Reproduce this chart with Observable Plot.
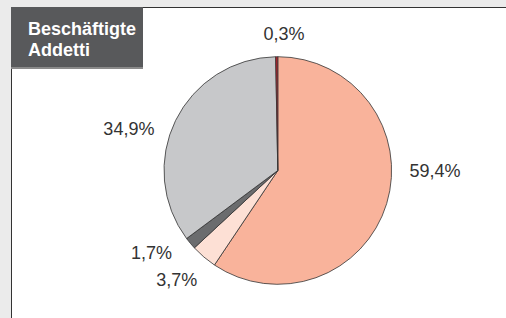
<!DOCTYPE html>
<html>
<head>
<meta charset="utf-8">
<script src="https://cdn.jsdelivr.net/npm/d3@7"></script>
<script src="https://cdn.jsdelivr.net/npm/@observablehq/plot@0.6"></script>
<style>
  html, body { margin: 0; padding: 0; }
  body { width: 506px; height: 318px; background: #ebebeb; position: relative; overflow: hidden;
         font-family: "Liberation Sans", Arial, sans-serif; }
  #panel { position: absolute; left: 11px; top: 7px; right: 0; bottom: 0; background: #fff;
           border-left: 1.5px solid #333; border-top: 1.5px solid #333; }
  #title { position: absolute; left: 11px; top: 7px; width: 132px; height: 60px; background: #58595b;
           border-bottom: 2px solid #8a8a8a; box-sizing: content-box;
           color: #fff; font-weight: bold; font-size: 18px; line-height: 20.5px; padding: 0; }
  #title div { position: absolute; left: 17px; top: 12px; }
  #chart { position: absolute; left: 0; top: 0; }
</style>
</head>
<body>
<div id="panel"></div>
<div id="title"><div>Beschäftigte<br>Addetti</div></div>
<div id="chart"></div>
<script>
// ---- data ----
const categories = ["Kategorie 1", "Kategorie 2", "Kategorie 3", "Kategorie 4", "Kategorie 5"];
const values = [59.4, 3.7, 1.7, 34.9, 0.3];
const labels = ["59,4%", "3,7%", "1,7%", "34,9%", "0,3%"];

// ---- styles ----
const sliceColors = ["#f9b39b", "#fde0d5", "#6b6c6e", "#c7c8ca", "#b3202a"];
// label placement tweaks (angle shift in degrees, radius factor) to mimic original layout
const labelTweak = [[-16.9, 1.152], [-4.1, 1.2], [2.1, 1.18], [-7.3, 1.15], [2.9, 1.21]];

const rows = categories.map((c, i) => ({category: c, value: values[i], label: labels[i]}));
const color = d3.scaleOrdinal(categories, sliceColors);
const arcs = d3.pie().sort(null).value(d => d.value)(rows);

const labelRows = arcs.map((a, i) => {
  const mid = (a.startAngle + a.endAngle) / 2 + labelTweak[i][0] * Math.PI / 180;
  const k = labelTweak[i][1];
  const sx = Math.sin(mid);
  return {
    label: a.data.label,
    x: sx * k,
    y: Math.cos(mid) * k,
    anchor: sx > 0.15 ? "start" : sx < -0.15 ? "end" : "middle"
  };
});

function pieSlices(index, scales) {
  const cx = scales.x(0), cy = scales.y(0), r = scales.x(1) - scales.x(0);
  const arc = d3.arc().innerRadius(0).outerRadius(r);
  const g = d3.create("svg:g").attr("transform", `translate(${cx},${cy})`);
  g.selectAll("path").data(arcs).join("path")
    .attr("d", arc)
    .attr("fill", d => color(d.data.category))
    .attr("stroke", "#333")
    .attr("stroke-width", 0.8)
    .attr("stroke-linejoin", "round");
  return g.node();
}

const textOpts = (anchor) => ({
  x: "x", y: "y", text: "label",
  textAnchor: anchor,
  fontSize: 18,
  fontFamily: "Liberation Sans, Arial, sans-serif",
  fill: "#333"
});

const plot = Plot.plot({
  width: 506,
  height: 318,
  margin: 0,
  style: {background: "transparent", overflow: "visible"},
  x: {domain: [-1, 1], range: [164, 391.6], axis: null},
  y: {domain: [-1, 1], range: [284, 57], axis: null},
  marks: [
    pieSlices,
    Plot.text(labelRows.filter(d => d.anchor === "start"), textOpts("start")),
    Plot.text(labelRows.filter(d => d.anchor === "end"), textOpts("end")),
    Plot.text(labelRows.filter(d => d.anchor === "middle"), textOpts("middle"))
  ]
});
document.getElementById("chart").appendChild(plot);
</script>
</body>
</html>
